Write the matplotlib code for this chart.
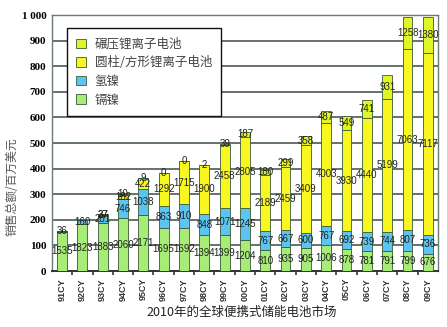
import numpy as np
import matplotlib.pyplot as plt
from matplotlib.ticker import FixedLocator

plt.rcParams['font.family'] = ['Noto Sans CJK SC', 'DejaVu Sans']

# 数据（标注值，单位按图上数字）
years = ['91CY', '92CY', '93CY', '94CY', '95CY', '96CY', '97CY', '98CY', '99CY', '00CY',
         '01CY', '02CY', '03CY', '04CY', '05CY', '06CY', '07CY', '08CY', '09CY']
nicd = [1535, 1823, 1883, 2060, 2171, 1695, 1692, 1394, 1399, 1204,
        810, 935, 905, 1006, 878, 781, 791, 799, 676]
nimh = [36, 160, 281, 746, 1038, 863, 910, 848, 1071, 1245,
        767, 667, 600, 767, 692, 739, 744, 807, 736]
li_cyl = [None, None, 27, 182, 422, 1292, 1715, 1900, 2458, 2805,
          2189, 2459, 3409, 4003, 3930, 4440, 5199, 7063, 7117]
li_lam = [None, None, 37, 10, 9, 0, 0, 2, 39, 187,
          180, 299, 358, 487, 549, 741, 931, 1258, 1380]
names = ['镉镍', '氢镍', '圆柱/方形锂离子电池', '碾压锂离子电池']
colors = ['#a8ec78', '#5cc4f0', '#f8f820', '#e0f525']
SCALE = 10.0  # 柱高 = 标注值 / 10

series = [nicd, nimh, li_cyl, li_lam]

fig = plt.figure(figsize=(4.47, 3.27), dpi=100)
ax = fig.add_axes([0.116, 0.171, 0.864, 0.783])

x = np.arange(len(years))
bottom = np.zeros(len(years))
handles = []
for vals, c, nm in zip(series, colors, names):
    v = np.array([0 if a is None else a for a in vals], dtype=float) / SCALE
    b = ax.bar(x, v, width=0.48, bottom=bottom, color=c, edgecolor='#3a5a3a',
               linewidth=0.6, zorder=3, label=nm)
    handles.append(b)
    for i, a in enumerate(vals):
        if a is None:
            continue
        ax.text(x[i], bottom[i] + v[i] / 2, str(a), ha='center', va='center',
                fontsize=7, family='Liberation Sans', color='#222222', zorder=5)
    bottom += v

ax.set_xlim(-0.5, len(years) - 0.5)
ax.set_ylim(0, 1000)
ax.set_yticks(np.arange(0, 1001, 100))
ax.set_yticklabels([f'{t:,}'.replace(',', ' ') for t in range(0, 1001, 100)],
                   family='Liberation Serif', fontweight='bold', fontsize=8)
ax.set_xticks(x)
ax.set_xticklabels(years, rotation=90, family='Liberation Sans', fontweight='bold',
                   fontsize=6.5, color='#333333')
ax.tick_params(axis='x', length=0, pad=5)
ax.tick_params(axis='y', length=0, pad=4)
ax.xaxis.set_minor_locator(FixedLocator(x[:-1] + 0.5))
ax.tick_params(axis='x', which='minor', length=3, width=1.2, color='#333333')
ax.yaxis.grid(True, color='#4a5a55', linewidth=1.2, zorder=0)
for s in ax.spines.values():
    s.set_color('#6a7a75')
    s.set_linewidth(1.0)
ax.spines['bottom'].set_color('#333333')
ax.spines['bottom'].set_linewidth(1.4)

leg = ax.legend(handles[::-1], names[::-1], loc='upper left',
                bbox_to_anchor=(0.038, 0.948), frameon=True,
                fancybox=False, handlelength=0.8, handleheight=0.8,
                handletextpad=0.7, labelspacing=0.45, borderpad=0.75,
                borderaxespad=0,
                prop={'family': 'Noto Sans CJK SC', 'weight': 'light', 'size': 9})
leg.get_frame().set_edgecolor('#111111')
leg.get_frame().set_linewidth(1.0)
leg.get_frame().set_alpha(1)
leg.set_zorder(10)
for t in leg.get_texts():
    t.set_color('#444444')

fig.text(0.027, 0.43, '销售总额/百万美元', rotation=90, ha='center', va='center',
         fontsize=8.5, color='#555555', weight='light')
fig.text(0.54, 0.045, '2010年的全球便携式储能电池市场', ha='center', va='center',
         fontsize=9, color='#222222')

fig.savefig('out.png', dpi=100)
